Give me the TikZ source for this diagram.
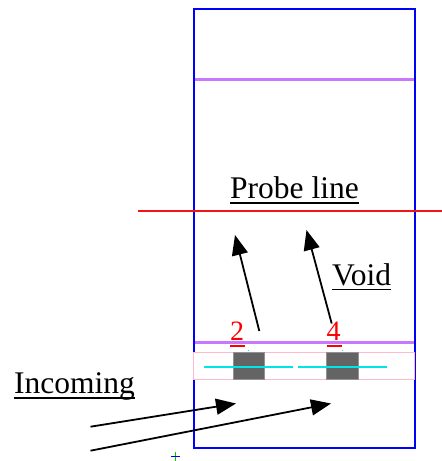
\documentclass[tikz,border=0pt]{standalone}
\usepackage{fontspec}
\setmainfont{Liberation Serif}
\usetikzlibrary{arrows.meta,calc}
\definecolor{wallblue}{RGB}{0,0,255}
\definecolor{bandviolet}{RGB}{200,120,255}
\definecolor{cellpink}{RGB}{255,185,200}
\definecolor{padgray}{RGB}{100,100,100}
\definecolor{wirecyan}{RGB}{0,230,230}
\definecolor{probered}{RGB}{240,20,20}
\tikzset{
  labeltext/.style={inner sep=0pt, anchor=base west, font=\fontsize{31.5}{32}\selectfont},
  numtext/.style={inner sep=0pt, anchor=base west, text=red, font=\fontsize{28}{28}\selectfont},
  ray/.style={line width=1.8pt, -{Triangle[length=20pt,width=16pt]}},
  band/.style={line width=3pt, bandviolet},
  wire/.style={line width=2pt, wirecyan},
  pad/.style={fill=padgray, draw=padgray!70, line width=0.6pt},
}
\begin{document}
\begin{tikzpicture}[x=1pt,y=-1pt]
\useasboundingbox (0,0) rectangle (442,461);

% outer wall
\draw[wallblue, line width=2pt] (193.5,8.5) rectangle (414.5,447.5);

% violet bands
\draw[band] (194.5,79) -- (413.5,79);
\draw[band] (194.5,342) -- (413.5,342);

% pink cell with pads and wires
\draw[cellpink, fill=white, line width=1pt] (193.5,352.5) rectangle (414.5,379);
\draw[pad] (233,352.5) rectangle (264,379);
\draw[pad] (326.5,352.5) rectangle (358,379);
\draw[wire] (204,366.7) -- (292.5,366.7);
\draw[wire] (297.5,366.7) -- (386.5,366.7);
\draw[wirecyan, line width=1.5pt] (247.5,350.5) -- (249,350.5);
\draw[wirecyan, line width=1.5pt] (341.5,350.5) -- (343,350.5);

% probe line
\draw[probered, line width=1.6pt] (138,211) -- (442,211);

% labels
\node[labeltext] (probe) at (230,198) {Probe line};
\draw[line width=1.8pt] ($(probe.base west)+(0,5)$) -- ($(probe.base east)+(0,5)$);
\node[labeltext] (void) at (332,285) {Void};
\draw[line width=1.8pt] ($(void.base west)+(0,4.5)$) -- ($(void.base east)+(0,4.5)$);
\node[labeltext] (incoming) at (14,393) {Incoming};
\draw[line width=1.8pt] ($(incoming.base west)+(0,5)$) -- ($(incoming.base east)+(0,5)$);

% pad numbers
\node[numtext] (n2) at (230,340) {2};
\draw[red, line width=2pt] ($(n2.base west)+(0,5.5)$) -- ($(n2.base east)+(1,5.5)$);
\node[numtext] (n4) at (326.5,340) {4};
\draw[red, line width=2pt] ($(n4.base west)+(0,5.5)$) -- ($(n4.base east)+(1,5.5)$);

% rays
\coordinate (in1a) at (90.5,426.7);
\coordinate (in1b) at (236,403.5);
\coordinate (in2a) at (90.5,450.7);
\coordinate (in2b) at (331,403.5);
\coordinate (up2a) at (259.3,331);
\coordinate (up2b) at (235,235);
\coordinate (up4a) at (331.7,323.5);
\coordinate (up4b) at (306.5,230);
\draw[ray] (in1a) -- (in1b);
\draw[ray] (in2a) -- (in2b);
\draw[ray] (up2a) -- (up2b);
\draw[ray] (up4a) -- (up4b);

% origin marker
\coordinate (mark) at (175.5,456);
\draw[green!80!black, line width=0.8pt] ($(mark)+(0,-4.5)$) -- ($(mark)+(0,4.5)$);
\draw[wallblue, line width=0.8pt] ($(mark)+(-4.5,0)$) -- ($(mark)+(4.5,0)$);
\end{tikzpicture}
\end{document}
